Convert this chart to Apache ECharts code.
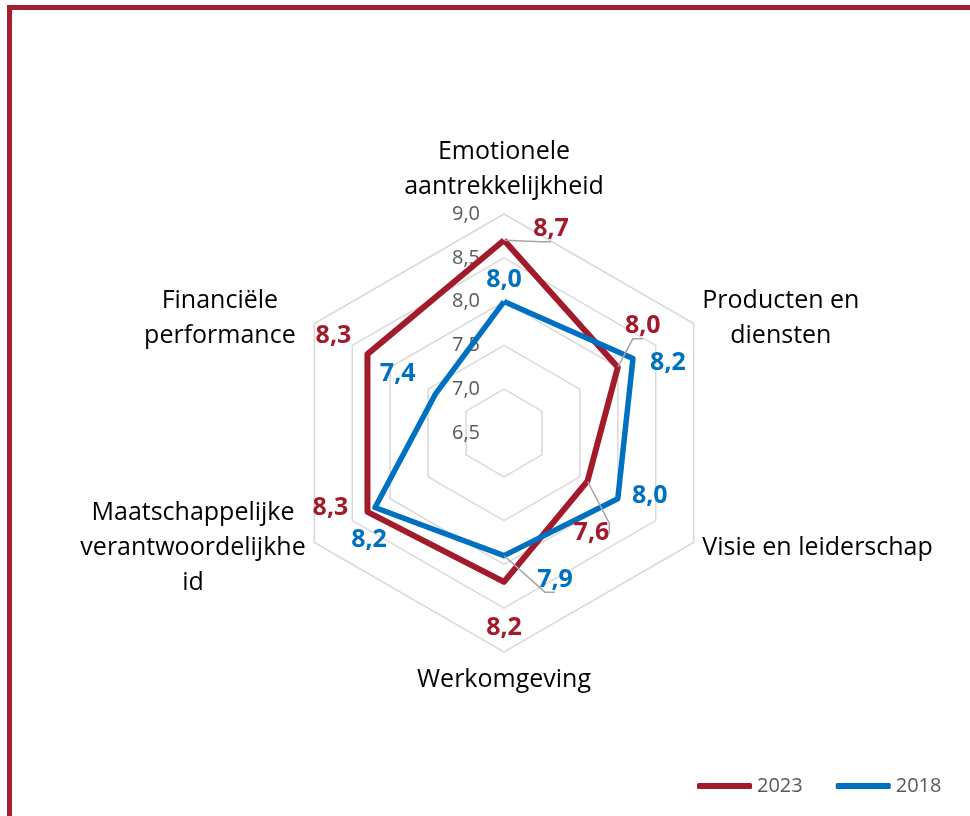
<!DOCTYPE html>
<html>
<head>
<meta charset="utf-8">
<script src="https://cdn.jsdelivr.net/npm/echarts@6/dist/echarts.min.js"></script>
<style>
  html, body { margin: 0; padding: 0; background: #fff; overflow: hidden; }
  #frame {
    position: absolute; left: 7px; top: 5px; width: 1000px; height: 900px;
    border-top: 5px solid #A51E32; border-left: 5px solid #A51E32;
  }
  #chart { position: absolute; left: 0; top: 0; width: 970px; height: 816px; }
</style>
</head>
<body>
<div id="frame"></div>
<div id="chart"></div>
<script>
// categories in clockwise order, starting at the top
const categories = [
  'Emotionele\naantrekkelijkheid',
  'Producten en\ndiensten',
  'Visie en leiderschap',
  'Werkomgeving',
  'Maatschappelijke\nverantwoordelijkhe\nid',
  'Financiële\nperformance'
];
const values2023 = [8.7, 8.0, 7.6, 8.2, 8.3, 8.3];
const values2018 = [8.0, 8.2, 8.0, 7.9, 8.2, 7.4];
const ticks = [6.5, 7.0, 7.5, 8.0, 8.5, 9.0];

const RED = '#A31A2B';
const BLUE = '#0070C0';
const FONT = 'Open Sans';

// label placement (offset of label centre from the vertex), and leader lines
const offsets2023 = [[47, -11], [25, -41], [4, 52], [0, 46], [-37, -4], [-34, -18]];
const offsets2018 = [[0, -22], [35, 4], [32, -3], [51, 24], [-6, 32], [-38, -20]];
const leaders2023 = [true, true, true, false, false, false];
const leaders2018 = [false, false, false, true, false, false];

const minV = ticks[0];
const maxV = ticks[ticks.length - 1];
const step = ticks[1] - ticks[0];
const center = [504, 433];
const radius = 219;

const fmt = v => Number(v).toFixed(1).replace('.', ',');

// radar goes counterclockwise, so reorder
const ccw = [0, 5, 4, 3, 2, 1];
const indicator = ccw.map(i => ({ name: categories[i], min: minV, max: maxV }));

const labelSeries = (name, values, offsets, leaders, color) => ({
  name: name,
  type: 'scatter',
  coordinateSystem: 'polar',
  symbolSize: 1,
  z: 5,
  itemStyle: { color: color, opacity: 0 },
  label: {
    show: true,
    position: 'inside',
    fontSize: 25,
    fontWeight: 'bold',
    fontFamily: FONT,
    color: color,
    opacity: 1,
    textBorderWidth: 0,
    textBorderColor: 'transparent',
    formatter: p => fmt(p.value[0])
  },
  labelLine: {
    length2: 10,
    lineStyle: { color: '#A6A6A6', width: 1.5, opacity: 1 }
  },
  data: values.map((v, i) => ({
    value: [v, i],
    label: { offset: offsets[i] },
    labelLine: { show: leaders[i] }
  }))
});

const chart = echarts.init(document.getElementById('chart'));
chart.setOption({
  animation: false,
  backgroundColor: 'transparent',
  legend: {
    data: ['2023', '2018'],
    left: 692,
    top: 771,
    icon: 'roundRect',
    itemWidth: 55,
    itemHeight: 6,
    itemGap: 33,
    textStyle: { fontSize: 20, color: '#595959', fontFamily: FONT }
  },
  radar: {
    center: center,
    radius: radius,
    startAngle: 90,
    splitNumber: 5,
    shape: 'polygon',
    indicator: indicator,
    axisNameGap: 10,
    axisName: {
      formatter: name => {
        const key = name.indexOf('Financi') === 0 ? 'r' : 'c';
        return name.split('\n').map(s => '{' + key + '|' + s + '}').join('\n');
      },
      rich: {
        c: { fontSize: 25, fontFamily: FONT, color: '#000', lineHeight: 35, align: 'center' },
        r: { fontSize: 25, fontFamily: FONT, color: '#000', lineHeight: 35, align: 'center', padding: [0, 10, 0, 0] }
      }
    },
    axisLine: { show: false },
    axisTick: { show: false },
    axisLabel: { show: false },
    splitArea: { show: false },
    splitLine: { lineStyle: { color: '#D9D9D9', width: 1.5 } }
  },
  polar: { center: center, radius: radius },
  angleAxis: {
    type: 'category',
    data: categories,
    boundaryGap: false,
    startAngle: 90,
    axisLine: { show: false },
    axisTick: { show: false },
    axisLabel: { show: false },
    splitLine: { show: false }
  },
  radiusAxis: {
    type: 'value',
    min: minV,
    max: maxV,
    interval: step,
    z: 1,
    axisLine: { show: false },
    axisTick: { show: false },
    splitLine: { show: false },
    axisLabel: { margin: 24, color: '#595959', fontSize: 20, fontFamily: FONT, formatter: v => fmt(v) }
  },
  series: [
    {
      name: '2023',
      type: 'radar',
      symbol: 'none',
      itemStyle: { color: RED },
      lineStyle: { color: RED, width: 6 },
      data: [{ name: '2023', value: ccw.map(i => values2023[i]) }]
    },
    {
      name: '2018',
      type: 'radar',
      symbol: 'none',
      itemStyle: { color: BLUE },
      lineStyle: { color: BLUE, width: 5.5 },
      data: [{ name: '2018', value: ccw.map(i => values2018[i]) }]
    },
    labelSeries('labels2023', values2023, offsets2023, leaders2023, RED),
    labelSeries('labels2018', values2018, offsets2018, leaders2018, BLUE)
  ]
});
</script>
</body>
</html>
